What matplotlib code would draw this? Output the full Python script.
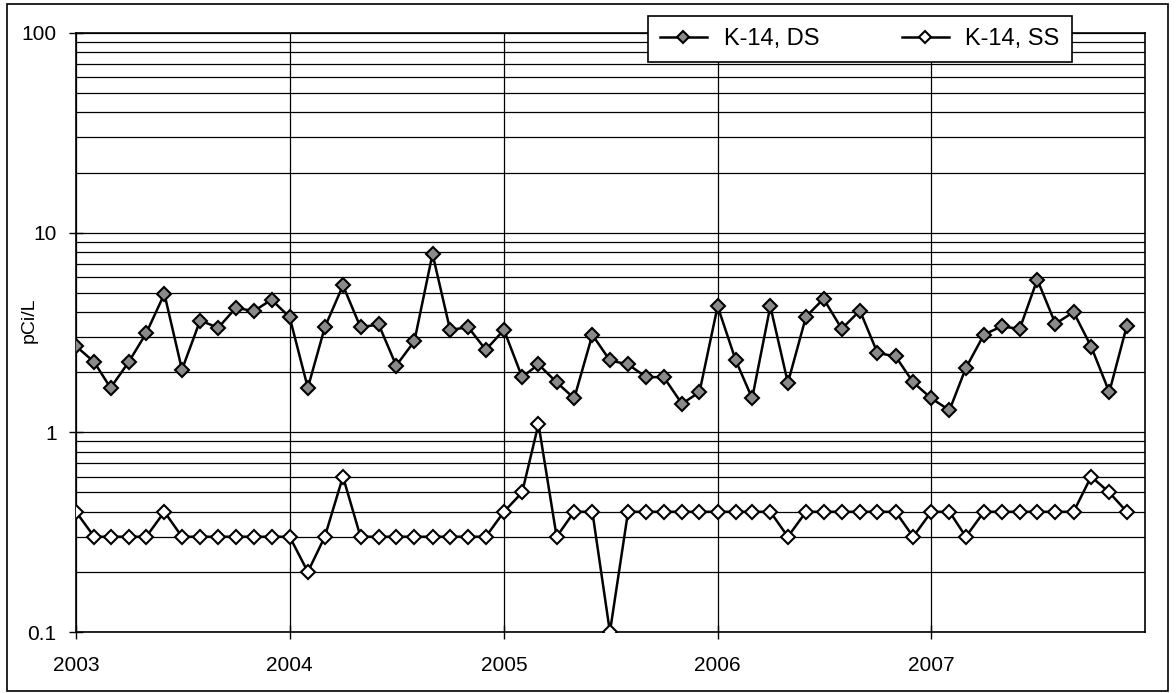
"""K-14 DS / SS activity, monthly 2003-2007, log scale."""
import datetime as dt

import numpy as np
import matplotlib
matplotlib.use("Agg")
import matplotlib.pyplot as plt
import matplotlib.dates as mdates
from matplotlib.patches import Rectangle
from matplotlib.ticker import LogLocator, NullFormatter, FixedLocator

plt.rcParams["font.family"] = ["Liberation Sans", "DejaVu Sans"]

# monthly samples, Jan 2003 .. Dec 2007
dates = [dt.date(2003 + i // 12, i % 12 + 1, 1) for i in range(60)]

k14_ds = [
    2.7, 2.25, 1.67, 2.25, 3.14, 4.94, 2.06, 3.63, 3.34, 4.2, 4.05, 4.62,
    3.77, 1.67, 3.36, 5.44, 3.36, 3.47, 2.16, 2.86, 7.83, 3.26, 3.36, 2.59,
    3.26, 1.89, 2.19, 1.78, 1.48, 3.08, 2.29, 2.19, 1.89, 1.89, 1.39, 1.59,
    4.28, 2.29, 1.48, 4.28, 1.77, 3.8, 4.66, 3.3, 4.07, 2.5, 2.4, 1.78,
    1.48, 1.29, 2.1, 3.09, 3.39, 3.3, 5.82, 3.5, 4.0, 2.69, 1.59, 3.42,
]
k14_ss = [
    0.4, 0.3, 0.3, 0.3, 0.3, 0.4, 0.3, 0.3, 0.3, 0.3, 0.3, 0.3,
    0.3, 0.2, 0.3, 0.6, 0.3, 0.3, 0.3, 0.3, 0.3, 0.3, 0.3, 0.3,
    0.4, 0.5, 1.1, 0.3, 0.4, 0.4, 0.1, 0.4, 0.4, 0.4, 0.4, 0.4,
    0.4, 0.4, 0.4, 0.4, 0.3, 0.4, 0.4, 0.4, 0.4, 0.4, 0.4, 0.3,
    0.4, 0.4, 0.3, 0.4, 0.4, 0.4, 0.4, 0.4, 0.4, 0.6, 0.5, 0.4,
]
years = [2003, 2004, 2005, 2006, 2007]

fig = plt.figure(figsize=(11.76, 6.93), dpi=100)
ax = fig.add_axes([76 / 1176, 1 - 632 / 693, (1145 - 76) / 1176, (632 - 33) / 693])

ax.plot(dates, k14_ds, color="black", lw=1.8, marker="D", markersize=7.5,
        markerfacecolor="#8a8a8a", markeredgecolor="black", markeredgewidth=1.5,
        label="K-14, DS", zorder=4)
ax.plot(dates, k14_ss, color="black", lw=1.8, marker="D", markersize=7.5,
        markerfacecolor="white", markeredgecolor="black", markeredgewidth=1.5,
        label="K-14, SS", zorder=4)

ax.set_yscale("log")
ax.set_ylim(0.1, 100)
ax.yaxis.set_major_locator(FixedLocator([0.1, 1, 10, 100]))
ax.set_yticklabels(["0.1", "1", "10", "100"])
ax.yaxis.set_minor_locator(LogLocator(base=10, subs=np.arange(2, 10)))
ax.yaxis.set_minor_formatter(NullFormatter())

ax.set_xlim(dt.date(2003, 1, 1), dt.date(2008, 1, 1))
ax.set_xticks([dt.date(y, 1, 1) for y in years])
ax.xaxis.set_major_formatter(mdates.DateFormatter("%Y"))

ax.grid(True, which="both", axis="y", color="black", lw=0.9)
ax.grid(True, which="major", axis="x", color="black", lw=0.9)
ax.tick_params(axis="both", which="major", direction="inout", length=10,
               width=1, labelsize=15, color="black")
ax.tick_params(axis="y", which="major", pad=9)
ax.tick_params(axis="x", which="major", pad=12)
ax.tick_params(axis="both", which="minor", length=0)
for s in ax.spines.values():
    s.set_color("black")
    s.set_linewidth(1.2)

ax.set_ylabel("pCi/L", fontsize=14)
ax.yaxis.set_label_coords(-0.036, 0.52)

leg = ax.legend(loc="upper left", bbox_to_anchor=(648 / 1176, 1 - 16 / 693),
                bbox_transform=fig.transFigure, ncol=2, fontsize=17,
                frameon=True, fancybox=False, framealpha=1, edgecolor="black",
                handlelength=2.0, handletextpad=0.7, columnspacing=3.5,
                borderpad=0.5, borderaxespad=0, markerscale=0.75)
leg.get_frame().set_linewidth(1.2)
leg.set_zorder(10)

fig.patches.append(Rectangle((7 / 1176, 2 / 693), 1161 / 1176, 687 / 693,
                             transform=fig.transFigure, fill=False,
                             edgecolor="black", lw=1.2))

fig.savefig("out.png", dpi=100)
